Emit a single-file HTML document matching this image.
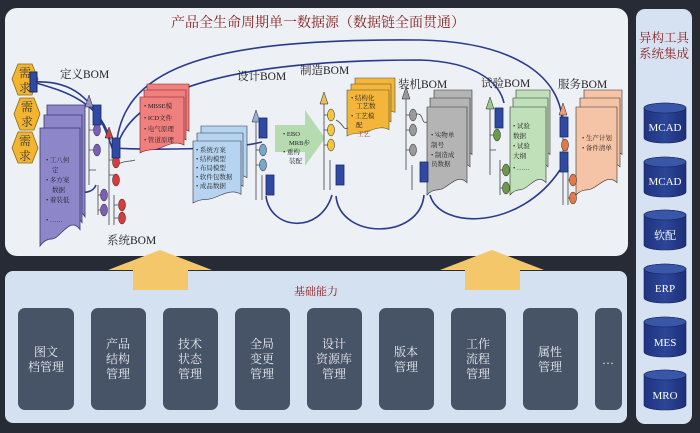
<!DOCTYPE html>
<html><head><meta charset="utf-8"><style>
html,body{margin:0;padding:0;background:#262b35;}
svg{display:block;}
text{font-family:"Liberation Serif","Noto Serif CJK SC","Noto Sans CJK SC",serif;}
.s{font-family:"Liberation Sans","Noto Sans CJK SC",sans-serif;}
</style></head><body>
<svg width="700" height="433" viewBox="0 0 700 433" xmlns="http://www.w3.org/2000/svg">
<defs>
<path id="pg" vector-effect="non-scaling-stroke" d="M0,0 H1 V0.86 C0.75,0.74 0.5,0.94 0.3,0.94 C0.15,0.94 0.06,0.97 0,1 Z"/>
<linearGradient id="cy" x1="0" x2="1"><stop offset="0" stop-color="#1f3380"/><stop offset="0.5" stop-color="#2c4698"/><stop offset="1" stop-color="#1d2f78"/></linearGradient>
</defs>
<rect width="700" height="433" fill="#262b35"/>
<rect x="5" y="8" width="623" height="248" rx="12" fill="#edf0f4"/>
<rect x="636" y="9" width="56" height="415" rx="9" fill="#d6e2f1"/>
<rect x="5" y="271" width="622" height="152" rx="8" fill="#d4e1f0"/>

<polygon points="108,270 160,250 212,270 188,270 188,290 133,290 133,270" fill="#f4c76a"/>
<polygon points="440,270 492,250 544,270 520,270 520,290 465,290 465,270" fill="#f4c76a"/>

<text x="318" y="27" font-size="14" fill="#8a1c1c" text-anchor="middle">产品全生命周期单一数据源（数据链全面贯通）</text>

<g fill="none" stroke="#2a3a8c" stroke-width="1.6">
<path d="M33,82 C60,90 100,100 110,140"/>
<path d="M33,82 C70,80 95,95 112,148 C150,150 230,150 262,142"/>
<path d="M116,150 C120,70 200,38 420,40 C520,42 560,80 562,120"/>
<path d="M116,150 C130,90 230,60 420,60 C480,62 500,85 504,103"/>
<path d="M266,196 C270,230 320,235 332,195"/>
<path d="M336,196 C340,240 420,240 424,195"/>
<path d="M430,195 C440,230 520,230 560,170"/>
<path d="M70,170 C60,190 90,200 96,185"/>
</g>

<g fill="#f3b52f" stroke="#8a6a10" stroke-width="0.8">
<polygon points="18,64 32,64 38,79 32,95 18,95 12,79"/>
<polygon points="20,98 34,98 40,114 34,130 20,130 14,114"/>
<polygon points="18,132 32,132 38,148 32,163 18,163 12,148"/>
</g>
<g font-size="12" fill="#333" text-anchor="middle">
<text x="25" y="77">需</text><text x="25" y="92">求</text>
<text x="27" y="111">需</text><text x="27" y="126">求</text>
<text x="25" y="145">需</text><text x="25" y="160">求</text>
</g>
<rect x="30" y="72" width="7" height="20" fill="#2f4aa0" stroke="#1a2870"/>

<g font-size="11.5" fill="#222">
<text x="60" y="78">定义BOM</text>
<text x="107" y="244">系统BOM</text>
<text x="237" y="80">设计BOM</text>
<text x="300" y="74">制造BOM</text>
<text x="398" y="88">装机BOM</text>
<text x="481" y="87">试验BOM</text>
<text x="558" y="88">服务BOM</text>
</g>

<g fill="#8d86c9" stroke="#3a3570" stroke-width="0.8">
<use href="#pg" transform="translate(47,105) scale(38,130)"/>
<use href="#pg" transform="translate(44,115) scale(38,125)"/>
<use href="#pg" transform="translate(40,128) scale(40,118)"/>
</g>
<g fill="#f07f7f" stroke="#7a2020" stroke-width="0.6">
<use href="#pg" transform="translate(147,84) scale(42,55)"/>
<use href="#pg" transform="translate(144,90) scale(42,58)"/>
<use href="#pg" transform="translate(140,97) scale(44,56)"/>
</g>
<g fill="#b6d4ef" stroke="#334" stroke-width="0.6">
<use href="#pg" transform="translate(201,126) scale(46,60)"/>
<use href="#pg" transform="translate(197,133) scale(46,62)"/>
<use href="#pg" transform="translate(193,141) scale(48,62)"/>
</g>
<polygon points="275,125 305,125 305,110 325,138 305,166 305,152 275,152" fill="#b6dbb1"/>
<g fill="#f3b53a" stroke="#553" stroke-width="0.6">
<use href="#pg" transform="translate(355,78) scale(40,40)"/>
<use href="#pg" transform="translate(351,84) scale(40,44)"/>
<use href="#pg" transform="translate(347,90) scale(42,46)"/>
</g>
<g fill="#b4b4b4" stroke="#333" stroke-width="0.6">
<use href="#pg" transform="translate(434,90) scale(38,75)"/>
<use href="#pg" transform="translate(430,98) scale(40,80)"/>
<use href="#pg" transform="translate(427,107) scale(40,88)"/>
</g>
<g fill="#bfe0b8" stroke="#333" stroke-width="0.6">
<use href="#pg" transform="translate(516,90) scale(34,75)"/>
<use href="#pg" transform="translate(513,98) scale(35,80)"/>
<use href="#pg" transform="translate(510,107) scale(36,88)"/>
</g>
<g fill="#f5c3a5" stroke="#333" stroke-width="0.6">
<use href="#pg" transform="translate(584,90) scale(38,75)"/>
<use href="#pg" transform="translate(580,98) scale(40,80)"/>
<use href="#pg" transform="translate(576,107) scale(41,88)"/>
</g>

<g class="s" font-size="6.5" fill="#222">
<text x="46" y="162">• 工八何</text><text x="52" y="172">定</text><text x="46" y="182">• 多方案</text><text x="52" y="192">数据</text><text x="46" y="202">• 着装低</text><text x="46" y="222">• ……</text>
<text x="144" y="108">• MBSE模</text><text x="144" y="120">• ICD文件</text><text x="144" y="131">• 电气原理</text><text x="144" y="142">• 管道原理</text>
<text x="196" y="152">• 系统方案</text><text x="196" y="161">• 结构模型</text><text x="196" y="170">• 布局模型</text><text x="196" y="179">• 软件包数据</text><text x="196" y="188">• 成品数据</text>
<text x="283" y="136">• EBO</text><text x="289" y="145">MRB步</text><text x="283" y="154">• 重构</text><text x="289" y="163">装配</text>
<text x="351" y="100">• 结构化</text><text x="356" y="108">工艺数</text><text x="351" y="118">• 工艺模</text><text x="356" y="127">配</text><text x="357" y="136" fill="#a22">工艺</text>
<text x="431" y="137">• 实物单</text><text x="431" y="147">制号</text><text x="431" y="157">• 制造成</text><text x="431" y="166">员数据</text>
<text x="513" y="128">• 试验</text><text x="513" y="138">数据</text><text x="513" y="148">• 试验</text><text x="513" y="158">大纲</text><text x="513" y="170">• ……</text>
<text x="582" y="140">• 生产计划</text><text x="582" y="150">• 备件清单</text>
</g>

<g stroke="#444" stroke-width="0.8" fill="none">
<path d="M89,105 V185 M89,130 H96 M89,150 H96 M89,170 H96 M98,185 V215 M98,195 H104 M98,210 H104"/>
<path d="M109,135 V225 M109,160 H114 M109,175 H114 M114,195 V225 M114,205 H118 M114,218 H118 M116,165 C125,160 130,162 135,160"/>
<path d="M256,120 V200 M256,150 H262 M256,165 H262 M262,175 V200"/>
<path d="M324,100 V190 M324,115 H330 M324,130 H330 M324,145 H330 M330,160 V190"/>
<path d="M406,97 V170 M406,115 H412 M406,130 H412 M406,150 H412 M412,165 V190"/>
<path d="M490,107 V175 M490,135 H496 M490,150 H496 M500,160 V195 M500,170 H506 M500,188 H506"/>
<path d="M563,112 V205 M563,135 H568 M563,150 H568 M568,165 V205 M568,180 H573 M568,198 H573"/>
<path d="M336,120 C345,125 342,130 348,128 M414,115 C425,110 420,125 427,122"/>
</g>
<g stroke="#222" stroke-width="0.5">
<polygon points="89,95 85,107 93,107" fill="#9a8fc9"/>
<polygon points="109,127 105,138 113,138" fill="#d04040"/>
<polygon points="256,110 252,122 260,122" fill="#9aaed8"/>
<polygon points="324,92 320,104 328,104" fill="#e8c060"/>
<polygon points="406,87 402,99 410,99" fill="#999"/>
<polygon points="490,97 486,109 494,109" fill="#9bc88b"/>
<polygon points="563,103 559,115 567,115" fill="#f0a070"/>
</g>
<g stroke="#222" stroke-width="0.5">
<g fill="#7a5fb5"><ellipse cx="97" cy="130" rx="3.5" ry="6"/><ellipse cx="97" cy="150" rx="3.5" ry="6"/><ellipse cx="104" cy="195" rx="3.5" ry="6"/><ellipse cx="104" cy="210" rx="3.5" ry="6"/></g>
<g fill="#d93b3b"><ellipse cx="116" cy="162" rx="3.5" ry="6"/><ellipse cx="116" cy="180" rx="3.5" ry="6"/><ellipse cx="122" cy="205" rx="3.5" ry="6"/><ellipse cx="122" cy="218" rx="3.5" ry="6"/></g>
<g fill="#7aa6c8"><ellipse cx="263" cy="150" rx="3.5" ry="6"/><ellipse cx="263" cy="165" rx="3.5" ry="6"/></g>
<g fill="#f2c53a"><ellipse cx="331" cy="115" rx="3.5" ry="6"/><ellipse cx="331" cy="130" rx="3.5" ry="6"/><ellipse cx="331" cy="145" rx="3.5" ry="6"/></g>
<g fill="#999"><ellipse cx="413" cy="115" rx="3.5" ry="6"/><ellipse cx="413" cy="130" rx="3.5" ry="6"/><ellipse cx="413" cy="150" rx="3.5" ry="6"/></g>
<g fill="#6a9a4a"><ellipse cx="497" cy="135" rx="3.5" ry="6"/><ellipse cx="506" cy="170" rx="3.5" ry="6"/><ellipse cx="506" cy="188" rx="3.5" ry="6"/></g>
<g fill="#e07a4a"><ellipse cx="565" cy="145" rx="3.5" ry="6"/><ellipse cx="573" cy="180" rx="3.5" ry="6"/><ellipse cx="573" cy="198" rx="3.5" ry="6"/></g>
</g>
<g fill="#2f4aa0" stroke="#1a2870" stroke-width="0.8">
<rect x="93" y="105" width="8" height="20"/><rect x="112" y="138" width="8" height="20"/>
<rect x="259" y="118" width="8" height="20"/><rect x="266" y="175" width="8" height="20"/>
<rect x="336" y="165" width="8" height="20"/><rect x="420" y="162" width="8" height="20"/>
<rect x="495" y="108" width="8" height="20"/><rect x="560" y="117" width="8" height="20"/><rect x="560" y="152" width="8" height="20"/>
</g>

<g font-size="12.5" fill="#8a1c1c" text-anchor="middle">
<text x="664" y="42">异构工具</text><text x="664" y="58">系统集成</text>
</g>
<g fill="url(#cy)" stroke="#15225e" stroke-width="0.6">
<path d="M644,108 V138 A21,5 0 0 0 686,138 V108 A21,5 0 0 0 644,108Z"/>
<path d="M644,162 V192 A21,5 0 0 0 686,192 V162 A21,5 0 0 0 644,162Z"/>
<path d="M644,215 V245 A21,5 0 0 0 686,245 V215 A21,5 0 0 0 644,215Z"/>
<path d="M644,269 V298 A21,5 0 0 0 686,298 V269 A21,5 0 0 0 644,269Z"/>
<path d="M644,322 V352 A21,5 0 0 0 686,352 V322 A21,5 0 0 0 644,322Z"/>
<path d="M644,375 V405 A21,5 0 0 0 686,405 V375 A21,5 0 0 0 644,375Z"/>
</g>
<g fill="#3a56a8" stroke="#15225e" stroke-width="0.6">
<ellipse cx="665" cy="108" rx="21" ry="5"/><ellipse cx="665" cy="162" rx="21" ry="5"/><ellipse cx="665" cy="215" rx="21" ry="5"/>
<ellipse cx="665" cy="269" rx="21" ry="5"/><ellipse cx="665" cy="322" rx="21" ry="5"/><ellipse cx="665" cy="375" rx="21" ry="5"/>
</g>
<g font-size="11" fill="#fff" text-anchor="middle">
<text x="665" y="131">MCAD</text><text x="665" y="185">MCAD</text><text x="665" y="239">软配</text>
<text x="665" y="292">ERP</text><text x="665" y="346">MES</text><text x="665" y="399">MRO</text>
</g>

<text x="316" y="295" font-size="11" fill="#8a1c1c" text-anchor="middle">基础能力</text>
<g fill="#475366">
<rect x="18" y="308" width="56" height="102" rx="7"/>
<rect x="91" y="308" width="55" height="102" rx="7"/>
<rect x="163" y="308" width="55" height="102" rx="7"/>
<rect x="235" y="308" width="55" height="102" rx="7"/>
<rect x="307" y="308" width="55" height="102" rx="7"/>
<rect x="379" y="308" width="55" height="102" rx="7"/>
<rect x="451" y="308" width="55" height="102" rx="7"/>
<rect x="523" y="308" width="55" height="102" rx="7"/>
<rect x="595" y="308" width="27" height="102" rx="7"/>
</g>
<g font-size="12" fill="#e8ecf2" text-anchor="middle">
<text x="46" y="356">图文</text><text x="46" y="371">档管理</text>
<text x="118" y="348">产品</text><text x="118" y="363">结构</text><text x="118" y="378">管理</text>
<text x="190" y="348">技术</text><text x="190" y="363">状态</text><text x="190" y="378">管理</text>
<text x="262" y="348">全局</text><text x="262" y="363">变更</text><text x="262" y="378">管理</text>
<text x="334" y="348">设计</text><text x="334" y="363">资源库</text><text x="334" y="378">管理</text>
<text x="406" y="356">版本</text><text x="406" y="371">管理</text>
<text x="478" y="348">工作</text><text x="478" y="363">流程</text><text x="478" y="378">管理</text>
<text x="550" y="356">属性</text><text x="550" y="371">管理</text>
<text x="608" y="364">…</text>
</g>
</svg>
</body></html>
